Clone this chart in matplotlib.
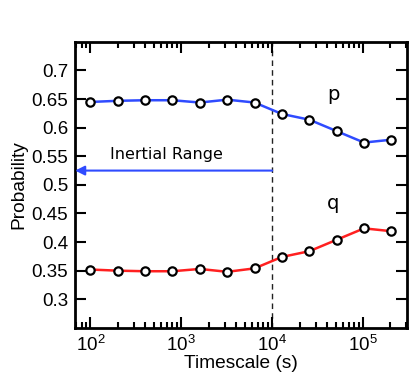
import numpy as np
import matplotlib
matplotlib.use('Agg')
import matplotlib.pyplot as plt

plt.rcParams['font.family'] = ['Liberation Sans', 'DejaVu Sans']

# datos
escala = [100, 200, 400, 800, 1600, 3200, 6400, 12800, 25600, 51200, 102400, 204800]
prob_p = [0.645, 0.647, 0.648, 0.648, 0.644, 0.649, 0.644, 0.624, 0.614, 0.594, 0.574, 0.579]
prob_q = [0.352, 0.350, 0.349, 0.349, 0.353, 0.348, 0.354, 0.374, 0.384, 0.404, 0.424, 0.419]
y_ticks = [0.3, 0.35, 0.4, 0.45, 0.5, 0.55, 0.6, 0.65, 0.7]
y_labels = ['0.3', '0.35', '0.4', '0.45', '0.5', '0.55', '0.6', '0.65', '0.7']
limite_inercial = 1e4

fig = plt.figure(figsize=(4.15, 3.88), dpi=100)
ax = fig.add_axes([0.181, 0.155, 0.80, 0.737])

ax.axvline(limite_inercial, color='#222222', ls=(0, (4, 3)), lw=1.0, zorder=1)

ax.plot(escala, prob_p, color='#2f4bff', lw=1.8, marker='o', ms=6,
        mfc='white', mec='black', mew=1.6, zorder=3)
ax.plot(escala, prob_q, color='#ff2020', lw=1.8, marker='o', ms=6,
        mfc='white', mec='black', mew=1.6, zorder=3)

ax.annotate('', xy=(68, 0.525), xytext=(limite_inercial, 0.525),
            arrowprops=dict(arrowstyle='-|>', color='#2f4bff', lw=1.5,
                            mutation_scale=14, shrinkA=0, shrinkB=0))
ax.text(680, 0.553, 'Inertial Range', fontsize=11.5, ha='center', va='center',
        family=['DejaVu Sans'])
ax.text(47000, 0.658, 'p', fontsize=14, ha='center', va='center', family=['DejaVu Sans'])
ax.text(47000, 0.468, 'q', fontsize=14, ha='center', va='center', family=['DejaVu Sans'])

ax.set_xscale('log')
ax.set_xlim(68, 3.05e5)
ax.set_ylim(0.25, 0.75)
ax.set_yticks(y_ticks)
ax.set_yticklabels(y_labels)
ax.set_xticks([1e2, 1e3, 1e4, 1e5])

ax.tick_params(which='both', direction='in', top=True, right=True, labelsize=13.5, width=1.5)
ax.tick_params(which='major', length=8, pad=5)
ax.tick_params(which='minor', length=4)
for s in ax.spines.values():
    s.set_linewidth(2)

ax.set_xlabel('Timescale (s)', fontsize=13.8, labelpad=0)
ax.set_ylabel('Probability', fontsize=13.8, labelpad=3)

plt.savefig('out.png', dpi=100)
plt.close()
